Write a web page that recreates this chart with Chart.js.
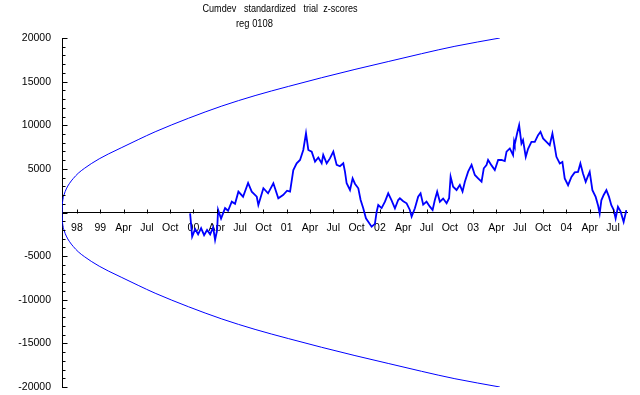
<!DOCTYPE html>
<html>
<head>
<meta charset="utf-8">
<script src="https://cdn.jsdelivr.net/npm/chart.js@4/dist/chart.umd.min.js"></script>
<style>
    html, body { margin: 0; padding: 0; background: #fff; }
    #wrap { width: 640px; height: 395px; }
</style>
</head>
<body>
<div id="wrap"><canvas id="myChart" width="640" height="395"></canvas></div>
<script>
// x values are in years (1999.0 = Jan 1999)
const tickYears = [1998.75, 1999, 1999.25, 1999.5, 1999.75, 2000, 2000.25, 2000.5, 2000.75,
    2001, 2001.25, 2001.5, 2001.75, 2002, 2002.25, 2002.5, 2002.75, 2003, 2003.25, 2003.5,
    2003.75, 2004, 2004.25, 2004.5];
const tickLabels = ["98", "99", "Apr", "Jul", "Oct", "00", "Apr", "Jul", "Oct", "01", "Apr", "Jul",
    "Oct", "02", "Apr", "Jul", "Oct", "03", "Apr", "Jul", "Oct", "04", "Apr", "Jul"];

// envelope curves
const envYears = [1998.590, 1998.593, 1998.600, 1998.614, 1998.636, 1998.668, 1998.711, 1998.764,
    1998.829, 1998.904, 1998.989, 1999.086, 1999.232, 1999.407, 1999.589, 1999.946, 2000.304,
    2000.661, 2001.018, 2001.375, 2001.732, 2002.089, 2002.446, 2002.804, 2003.286];
const envUpper = [0, 800, 1500, 2100, 2700, 3300, 3900, 4500, 5050, 5600, 6150, 6700, 7450, 8350,
    9250, 10800, 12200, 13400, 14450, 15450, 16400, 17300, 18200, 19050, 20000];
const envLower = [0, -800, -1500, -2100, -2700, -3300, -3900, -4500, -5050, -5600, -6150, -6700,
    -7450, -8350, -9250, -10800, -12200, -13400, -14450, -15450, -16400, -17300, -18200, -19050,
    -20000];

// cumulative deviation
const cumYears = [1999.964, 1999.986, 2000.018, 2000.050, 2000.082, 2000.114, 2000.146, 2000.179,
    2000.211, 2000.232, 2000.254, 2000.264, 2000.296, 2000.339, 2000.371, 2000.411, 2000.446,
    2000.482, 2000.532, 2000.586, 2000.625, 2000.679, 2000.696, 2000.750, 2000.800, 2000.857,
    2000.910, 2000.961, 2001.004, 2001.036, 2001.071, 2001.107, 2001.143, 2001.178, 2001.207,
    2001.232, 2001.268, 2001.304, 2001.339, 2001.375, 2001.392, 2001.429, 2001.464, 2001.500,
    2001.536, 2001.571, 2001.607, 2001.625, 2001.643, 2001.679, 2001.707, 2001.732, 2001.768,
    2001.793, 2001.821, 2001.850, 2001.875, 2001.911, 2001.946, 2001.965, 2001.982, 2002.018,
    2002.054, 2002.089, 2002.125, 2002.161, 2002.196, 2002.214, 2002.250, 2002.286, 2002.321,
    2002.340, 2002.375, 2002.410, 2002.436, 2002.464, 2002.500, 2002.536, 2002.565, 2002.589,
    2002.614, 2002.643, 2002.678, 2002.715, 2002.742, 2002.758, 2002.785, 2002.822, 2002.857,
    2002.886, 2002.911, 2002.946, 2002.983, 2003.018, 2003.053, 2003.090, 2003.114, 2003.143,
    2003.160, 2003.197, 2003.232, 2003.268, 2003.304, 2003.339, 2003.358, 2003.393, 2003.428,
    2003.439, 2003.446, 2003.471, 2003.493, 2003.518, 2003.535, 2003.564, 2003.589, 2003.625,
    2003.661, 2003.696, 2003.722, 2003.750, 2003.786, 2003.821, 2003.850, 2003.875, 2003.893,
    2003.929, 2003.957, 2003.982, 2004.018, 2004.054, 2004.089, 2004.125, 2004.150, 2004.178,
    2004.207, 2004.232, 2004.250, 2004.279, 2004.314, 2004.339, 2004.357, 2004.375, 2004.400,
    2004.429, 2004.457, 2004.482, 2004.507, 2004.528, 2004.553, 2004.582, 2004.614, 2004.643];
const cumValues = [-100, -2770, -1900, -2500, -1800, -2600, -2000, -2500,
    -1700, -3150, -2000, 300, -700, 500, 200, 1240, 1000,
    2390, 1810, 3380, 2390, 1810, 860, 2780, 2200, 3350,
    1630, 2000, 2500, 2390, 4870, 5640, 6020, 7170, 9080,
    7170, 6970, 5830, 6300, 5640, 6600, 5640, 6200, 6970,
    5450, 5300, 5640, 4680, 3350, 2580, 3920, 3300, 2770,
    1430, 480, -670, -1050, -1630, -1300, 90, 860, 500,
    1240, 2200, 1400, 480, 1430, 1630, 1300, 1060, 290,
    -480, 480, 1810, 2200, 900, 1240, 670, 290, 1430,
    2390, 1240, 1600, 1060, 1630, 4100, 2960, 2580, 3150,
    2400, 3530, 4680, 5450, 4300, 3920, 3530, 5070, 5450,
    6020, 5400, 4870, 6020, 6020, 5900, 6970, 7340, 6570,
    8120, 7800, 9060, 10010, 7910, 8300, 6380, 7300, 8100,
    8100, 8870, 9250, 8490, 8100, 7720, 9060, 7530, 6380,
    5620, 5800, 3900, 3130, 4080, 4600, 4660, 5620, 4470,
    3510, 4200, 4660, 2560, 1790, 840, -110, 1400, 2010,
    2560, 1790, 840, 300, -690, 650, 100, -1070, 270];

const titleLines = ["Cumdev   standardized   trial  z-scores", "reg 0108"];
const fontFamily = "'Liberation Sans', Arial, sans-serif";

function toPoints(xs, ys) {
    return xs.map((x, i) => ({ x: x, y: ys[i] }));
}

// inward tick marks and the two title lines
const axisExtras = {
    id: "axisExtras",
    afterDraw(chart) {
        const ctx = chart.ctx;
        const xs = chart.scales.x;
        const ys = chart.scales.y;
        const zeroY = Math.round(ys.getPixelForValue(0)) + 0.5;
        const leftX = Math.round(chart.chartArea.left) + 0.5;
        ctx.save();
        ctx.strokeStyle = "#000";
        ctx.lineWidth = 1;
        ctx.beginPath();
        xs.ticks.forEach(t => {
            const px = Math.round(xs.getPixelForValue(t.value)) + 0.5;
            ctx.moveTo(px, zeroY);
            ctx.lineTo(px, zeroY - 4);
        });
        ys.ticks.forEach(t => {
            const py = Math.round(ys.getPixelForValue(t.value)) + 0.5;
            const len = t.value % 5000 === 0 ? 5 : 3;
            ctx.moveTo(leftX, py);
            ctx.lineTo(leftX + len, py);
        });
        ctx.stroke();

        // the original title uses a narrow face, so squeeze it to its width
        ctx.fillStyle = "#000";
        ctx.font = "11px " + fontFamily;
        ctx.textAlign = "center";
        ctx.textBaseline = "alphabetic";
        ctx.fillText(titleLines[0], 280, 12, 155);
        ctx.fillText(titleLines[1], 254.5, 26.5, 37);
        ctx.restore();
    }
};

new Chart(document.getElementById("myChart"), {
    type: "line",
    data: {
        datasets: [
            {
                data: toPoints(envYears, envUpper),
                borderColor: "#0000ff",
                borderWidth: 1,
                pointRadius: 0,
                cubicInterpolationMode: "monotone",
            },
            {
                data: toPoints(envYears, envLower),
                borderColor: "#0000ff",
                borderWidth: 1,
                pointRadius: 0,
                cubicInterpolationMode: "monotone",
            },
            {
                data: toPoints(cumYears, cumValues),
                borderColor: "#0000ff",
                borderWidth: 1.8,
                pointRadius: 0,
                tension: 0,
            },
        ],
    },
    options: {
        responsive: false,
        animation: false,
        events: [],
        layout: { padding: { left: 0, top: 38, right: 13, bottom: 8 } },
        plugins: {
            legend: { display: false },
            title: { display: false },
            tooltip: { enabled: false },
        },
        scales: {
            x: {
                type: "linear",
                position: { y: 0 },
                min: 1998.59,
                max: 2004.65,
                afterBuildTicks: (scale) => {
                    scale.ticks = tickYears.map(v => ({ value: v }));
                },
                afterFit: (scale) => { scale.height = 0; },
                grid: { display: false, drawTicks: false },
                border: { display: true, color: "#000", width: 1 },
                ticks: {
                    autoSkip: false,
                    maxRotation: 0,
                    padding: 9,
                    color: "#000",
                    font: { family: fontFamily, size: 10.5 },
                    callback: (v, i) => tickLabels[i],
                },
            },
            y: {
                min: -20000,
                max: 20000,
                afterFit: (scale) => {
                    scale.width = 62;
                    scale.paddingTop = 0;
                    scale.paddingBottom = 0;
                },
                grid: { display: false, drawTicks: false },
                border: { display: true, color: "#000", width: 1 },
                ticks: {
                    stepSize: 1000,
                    autoSkip: false,
                    padding: 11,
                    color: "#000",
                    font: { family: fontFamily, size: 10.5 },
                    callback: (v) => (v % 5000 === 0 && v !== 0 ? String(v) : ""),
                },
            },
        },
    },
    plugins: [axisExtras],
});
</script>
</body>
</html>
